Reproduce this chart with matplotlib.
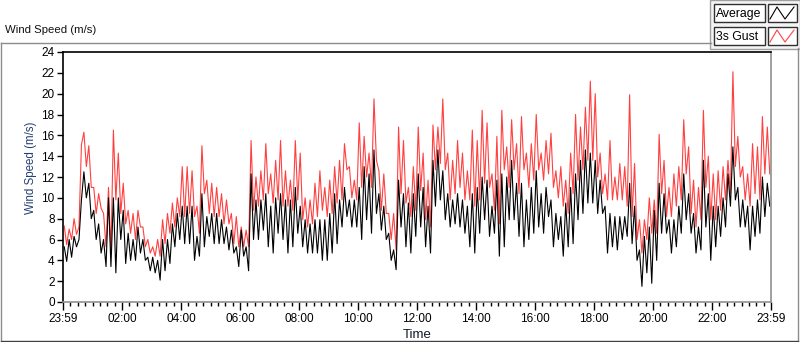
import numpy as np
import matplotlib
matplotlib.use("Agg")
import matplotlib.pyplot as plt
from matplotlib.lines import Line2D
from matplotlib.patches import Rectangle

plt.rcParams['font.family'] = ['Liberation Sans', 'DejaVu Sans']

# 5-minute samples (peak / trough of each 10-minute window)
gust = [
    7.3, 5.5, 7.0, 6.0, 8.0, 6.5, 7.2, 15.1, 16.3, 13.0, 15.0, 11.0, 11.0, 8.5, 10.4, 9.0,
    8.5, 5.3, 11.0, 4.7, 16.5, 9.8, 14.3, 8.5, 11.4, 7.5, 8.8, 6.6, 8.5, 6.0, 8.8, 7.2,
    7.2, 5.3, 6.0, 4.7, 5.3, 4.4, 6.0, 4.4, 7.9, 5.6, 8.5, 6.6, 9.5, 7.2, 10.0, 8.2,
    13.0, 8.2, 13.0, 8.5, 12.6, 8.2, 9.2, 6.6,
    15.0, 10.4, 11.7, 8.5, 11.4, 8.2, 11.0, 8.2, 10.4, 7.5, 9.8, 7.5, 8.5, 5.6, 8.2, 5.3,
    7.2, 5.3, 6.9, 5.3, 15.5, 8.8, 12.0, 9.2, 12.6, 9.8, 15.2, 10.4, 12.3, 9.5, 13.6, 9.8,
    15.5, 9.2, 12.6, 9.2, 11.7, 8.8, 15.5, 9.8, 14.3, 7.9, 10.0, 7.2, 9.8, 7.5, 11.4, 8.2,
    12.6, 8.8, 11.0, 8.2, 11.7, 8.5, 13.0, 9.5, 13.6, 9.8,
    15.2, 12.7, 13.0, 10.0, 11.7, 9.8, 17.2, 11.0, 15.9, 12.0, 14.3, 11.0, 19.5, 13.6, 12.6, 8.8,
    12.3, 8.5, 8.5, 6.0, 8.5, 5.0, 16.8, 10.4, 15.5, 9.5, 11.0, 8.2, 13.0, 8.8, 16.8, 10.7,
    14.3, 7.9, 11.7, 7.2, 17.0, 12.7, 16.8, 13.3, 19.5, 12.7, 14.3, 9.8, 13.6, 10.4, 15.5, 11.0,
    14.3, 9.8, 12.6, 9.8, 16.5, 9.2, 15.5, 9.8, 18.4, 11.4,
    17.2, 11.0, 12.3, 8.8, 15.9, 7.5, 18.4, 12.7, 14.9, 11.0, 17.5, 12.7, 15.2, 10.4, 17.8, 12.7,
    14.3, 11.0, 15.2, 11.7, 18.0, 12.7, 14.3, 11.7, 15.5, 12.3, 16.2, 11.0, 12.6, 10.0, 13.0, 9.2,
    11.7, 8.5, 14.3, 10.4, 18.0, 11.7, 16.8, 12.7, 18.7, 13.6, 21.2, 13.6, 20.0, 12.0, 14.3, 10.4,
    12.3, 9.8, 15.5, 9.8, 12.0, 9.8, 13.3, 9.8, 13.0, 9.2,
    19.9, 8.2, 13.3, 6.0, 7.9, 4.7, 7.9, 6.0, 10.0, 6.6, 9.8, 6.6, 16.1, 10.4, 13.6, 8.2,
    11.0, 8.2, 12.3, 9.2, 13.0, 9.8, 17.5, 12.3, 14.9, 8.5, 11.7, 7.2, 11.0, 7.9, 18.4, 11.0,
    14.0, 7.9, 12.3, 7.9, 12.6, 8.8, 13.0, 9.8, 13.6, 10.4, 22.1, 13.0, 15.9, 12.0, 13.0, 9.8,
    12.3, 9.2, 15.2, 10.4, 14.9, 9.8, 17.8, 12.3, 16.8, 12.3,
]

average = [
    5.3, 3.9, 6.0, 4.3, 6.3, 5.3, 6.0, 9.8, 12.5, 10.0, 11.4, 8.0, 8.8, 6.0, 7.5, 4.7,
    6.0, 3.4, 10.0, 3.4, 10.0, 2.8, 10.0, 6.0, 8.8, 3.7, 6.6, 4.0, 6.0, 4.0, 7.2, 4.7,
    6.0, 4.0, 4.3, 3.0, 4.3, 2.8, 4.0, 2.1, 6.0, 3.0, 6.0, 3.7, 7.5, 5.3, 8.5, 6.0,
    9.2, 5.6, 9.2, 5.6, 9.2, 4.0, 6.3, 4.4,
    10.4, 5.3, 8.2, 6.3, 8.5, 5.6, 8.5, 5.6, 7.9, 5.6, 7.2, 5.0, 6.9, 4.7, 5.3, 3.4,
    6.9, 4.4, 5.3, 3.0, 12.3, 6.0, 9.8, 6.0, 9.8, 6.9, 10.4, 5.3, 9.2, 4.7, 10.0, 6.6,
    10.4, 6.0, 9.8, 4.7, 9.8, 5.3, 11.0, 6.6, 9.2, 5.3, 7.9, 4.7, 7.5, 4.7, 7.9, 4.7,
    7.9, 4.0, 7.9, 4.0, 8.5, 4.7, 10.4, 5.6, 9.8, 7.2,
    11.0, 8.2, 9.8, 7.2, 9.8, 7.2, 11.0, 6.0, 13.0, 7.9, 12.3, 6.6, 14.6, 8.5, 10.4, 6.9,
    9.2, 6.0, 6.6, 4.0, 5.0, 3.1, 11.7, 7.2, 10.4, 5.3, 9.5, 4.7, 10.4, 6.3, 12.3, 7.2,
    11.0, 5.3, 9.2, 4.7, 13.6, 9.2, 14.6, 9.8, 12.6, 7.9, 10.4, 7.2, 9.8, 7.5, 10.4, 7.2,
    9.8, 6.6, 9.2, 5.3, 10.4, 4.7, 11.0, 6.6, 12.0, 7.9,
    11.7, 6.3, 9.2, 6.6, 11.7, 4.4, 12.3, 5.3, 12.0, 7.9, 13.6, 7.9, 11.4, 6.3, 11.4, 5.3,
    9.8, 6.0, 11.0, 6.6, 12.6, 7.2, 10.4, 6.6, 11.0, 8.2, 9.8, 5.3, 8.5, 6.0, 8.2, 4.4,
    9.5, 5.3, 11.0, 5.6, 12.3, 7.9, 13.6, 8.5, 14.6, 9.5, 14.3, 9.5, 13.6, 8.5, 11.7, 8.5,
    9.2, 4.7, 8.5, 5.3, 8.2, 5.0, 8.2, 6.0, 8.2, 6.3,
    11.4, 5.6, 9.2, 4.0, 5.0, 1.5, 6.3, 2.8, 7.2, 1.8, 8.8, 4.0, 11.4, 6.6, 10.4, 6.6,
    7.9, 4.7, 7.9, 5.3, 9.2, 6.6, 12.3, 7.9, 10.4, 6.6, 8.5, 4.7, 7.2, 5.0, 13.6, 7.2,
    10.4, 4.0, 9.2, 5.3, 9.2, 6.3, 10.0, 7.2, 12.3, 9.2, 14.9, 9.8, 11.0, 7.2, 9.8, 7.2,
    9.2, 5.0, 9.2, 6.3, 9.8, 6.6, 12.0, 8.2, 11.4, 9.2,
]

tick_minutes = list(range(0, 1441, 120))
tick_labels = ["23:59", "02:00", "04:00", "06:00", "08:00", "10:00", "12:00",
               "14:00", "16:00", "18:00", "20:00", "22:00", "23:59"]

W, H = 800, 342
fig = plt.figure(figsize=(W / 100, H / 100), dpi=100)


def fx(x):
    return x / W


def fy(y):
    return 1 - y / H


def fline(xs, ys, color, lw=1.0):
    fig.add_artist(Line2D([fx(x) for x in xs], [fy(y) for y in ys],
                          color=color, lw=lw, transform=fig.transFigure))


def fbox(x0, y0, x1, y1, ec, fc, lw=1.0):
    fig.add_artist(Rectangle((fx(x0), fy(y1)), fx(x1) - fx(x0), fy(y0) - fy(y1),
                             ec=ec, fc=fc, lw=lw, transform=fig.transFigure))


# outer frame of the graph control
fline([0.5, 711], [42.5, 42.5], '#8c8c8c')
fline([0.5, 0.5], [42.5, 340.5], '#8c8c8c')
fline([797.5, 797.5], [48, 340.5], '#8c8c8c')
fline([0.5, 797.5], [340.5, 340.5], '#404040')

fig.text(fx(5), fy(30), "Wind Speed (m/s)", fontsize=8.2, color='#101010', va='center', ha='left')

# legend panel
fbox(710, 0, 800, 48.5, '#a0a0a0', '#f4f4f4')
box_fill = ['#000000', '#ff4040']
box_names = ["Average", "3s Gust"]
for i, (name, col) in enumerate(zip(box_names, box_fill)):
    y0 = 4 + i * 23
    fbox(713.5, y0, 764.5, y0 + 18, '#303030', 'white')
    fbox(767.5, y0, 796.5, y0 + 18, '#303030', 'white')
    fig.text(fx(715.5), fy(y0 + 9.5), name, fontsize=8.8, color='black', va='center', ha='left')
    fline([770, 777, 785, 794], [y0 + 15, y0 + 3, y0 + 15, y0 + 3], col, lw=0.8)

ax = fig.add_axes([63 / W, 1 - 302 / H, 708 / W, 250 / H])
t = np.arange(len(gust)) * 5 + 2.5
ax.plot(t, gust, color='#ff4040', lw=0.8)
ax.plot(t, average, color='black', lw=0.8)

ax.set_xlim(0, 1440)
ax.set_ylim(0, 24)
ax.set_yticks(range(0, 25, 2))
ax.set_xticks(tick_minutes)
ax.set_xticklabels(tick_labels)
ax.set_xticks(range(0, 1441, 15), minor=True)
ax.tick_params(axis='y', length=4, width=1, pad=2, labelsize=8.5, direction='out')
ax.tick_params(axis='x', which='major', length=6, width=1, pad=2, labelsize=8.5, direction='out')
ax.tick_params(axis='x', which='minor', length=3, width=1, direction='out')
for s in ('left', 'top'):
    ax.spines[s].set_color('black')
    ax.spines[s].set_linewidth(1.2)
for s in ('right', 'bottom'):
    ax.spines[s].set_color('#909090')
    ax.spines[s].set_linewidth(1.2)
ax.tick_params(colors='black')
ax.set_ylabel("Wind Speed (m/s)", fontsize=8.3, color='#243f73')
ax.yaxis.set_label_coords(-26 / 708, 0.535)
ax.set_xlabel("Time", fontsize=9.5, color='#101828', labelpad=2.5)

fig.savefig("out.png", dpi=100)
